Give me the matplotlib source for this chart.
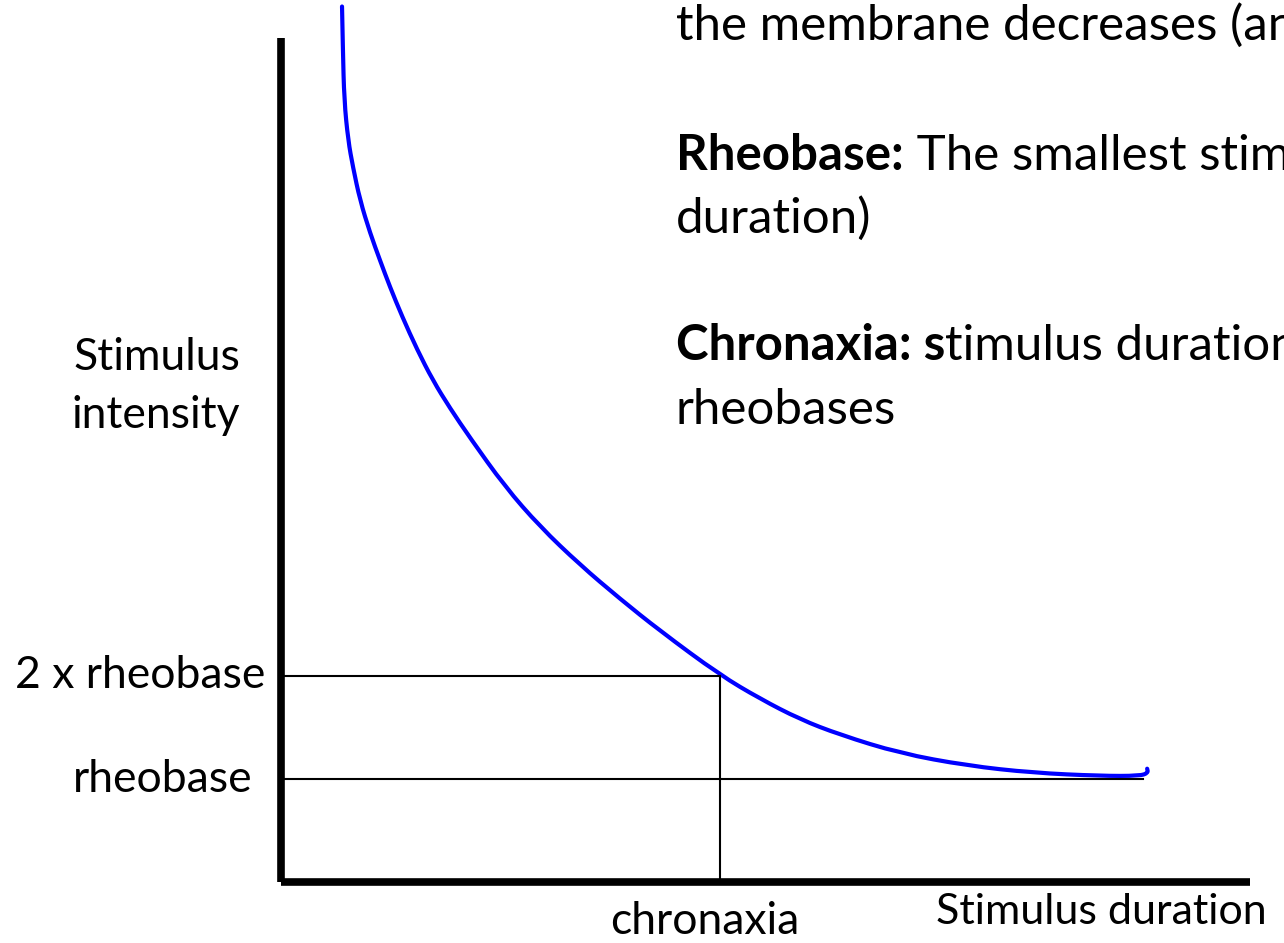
import matplotlib
matplotlib.use("Agg")
import matplotlib.pyplot as plt
from matplotlib.path import Path
from matplotlib.patches import PathPatch

plt.rcParams['font.family'] = ['Lato', 'DejaVu Sans']

# strength-duration curve (duration in chronaxia units,
# intensity in rheobase units)
duration = [0.139, 0.141, 0.144, 0.153, 0.164, 0.180, 0.203, 0.226, 0.248,
            0.276, 0.310, 0.346, 0.385, 0.431, 0.510, 0.590, 0.681, 0.772,
            0.863, 1.000, 1.091, 1.182, 1.273, 1.410, 1.563, 1.713, 1.866,
            1.957, 1.975, 1.973]
intensity = [8.50, 8.08, 7.59, 7.20, 6.94, 6.62, 6.30, 6.03, 5.78,
             5.49, 5.17, 4.87, 4.60, 4.31, 3.84, 3.45, 3.08, 2.75,
             2.44, 2.01, 1.78, 1.58, 1.43, 1.25, 1.13, 1.06, 1.03,
             1.03, 1.06, 1.10]

rheobase = 1.0
two_rheobase = 2.0
chronaxia = 1.0
x_end = 2.207
y_end = 8.19
rheo_line_end = 1.963

level_labels = ['2 x rheobase', 'rheobase']

fig = plt.figure(figsize=(12.84, 9.43), dpi=100)
ax = fig.add_axes([0, 0, 1, 1])
ax.set_xlim(-281 / 439, (1284 - 281) / 439)
ax.set_ylim(-(943 - 882) / 103, 882 / 103)
ax.axis('off')

# axes
ax.plot([0, 0], [0, y_end], color='black', lw=5.5, solid_capstyle='butt')
ax.plot([0, x_end], [0, 0], color='black', lw=5.5, solid_capstyle='butt')

# guide lines
ax.plot([0, rheo_line_end], [rheobase, rheobase], color='black', lw=1.5)
ax.plot([0, chronaxia], [two_rheobase, two_rheobase], color='black', lw=1.5)
ax.plot([chronaxia, chronaxia], [0, two_rheobase], color='black', lw=1.5)

# curve, drawn as a smooth quadratic path over the read points
pts = list(zip(duration, intensity))
verts = [pts[0]]
codes = [Path.MOVETO]
for i in range(1, len(pts) - 1):
    mid = ((pts[i][0] + pts[i + 1][0]) / 2, (pts[i][1] + pts[i + 1][1]) / 2)
    verts += [pts[i], mid]
    codes += [Path.CURVE3, Path.CURVE3]
verts.append(pts[-1])
codes.append(Path.LINETO)
curve = PathPatch(Path(verts, codes), fill=False, edgecolor='#0000ff', lw=3.0,
                  capstyle='round', joinstyle='round', clip_on=False)
ax.add_patch(curve)

fs = 32
tr = ax.transAxes
W, H = 1284, 943

ax.text(265 / W, 1 - 675 / H, level_labels[0], ha='right', va='center',
        fontsize=fs, transform=tr)
ax.text(253 / W, 1 - 779 / H, level_labels[1], ha='right', va='center',
        fontsize=fs, transform=tr)
ax.text(240 / W, 1 - 358 / H, 'Stimulus', ha='right', va='center',
        fontsize=fs, transform=tr)
ax.text(240 / W, 1 - 415 / H, 'intensity', ha='right', va='center',
        fontsize=fs, transform=tr)
ax.text(705 / W, 1 - 922 / H, 'chronaxia', ha='center', va='center',
        fontsize=fs, transform=tr)
ax.text(936 / W, 1 - 912 / H, 'Stimulus duration', ha='left', va='center',
        fontsize=31, transform=tr)

# notes on the right (cut off at the right edge, as in the slide)
fs2 = 35.5
x0 = 676 / W
ax.text(x0, 1 - 25 / H, 'the membrane decreases (and vice versa)',
        ha='left', va='center', fontsize=fs2, transform=tr)
t1 = ax.text(x0, 1 - 155 / H, 'Rheobase:', ha='left', va='center',
             fontsize=fs2, fontweight='bold', transform=tr)
ax.annotate(' The smallest stimulus intensity (with infinite', xy=(1, 0),
            xycoords=t1, ha='left', va='bottom', fontsize=fs2)
ax.text(x0, 1 - 218 / H, 'duration)', ha='left', va='center', fontsize=fs2,
        transform=tr)
t2 = ax.text(x0, 1 - 345 / H, 'Chronaxia: s', ha='left', va='center',
             fontsize=fs2, fontweight='bold', transform=tr)
ax.annotate('timulus duration needed with two', xy=(1, 0),
            xycoords=t2, ha='left', va='bottom', fontsize=fs2)
ax.text(x0, 1 - 410 / H, 'rheobases', ha='left', va='center', fontsize=fs2,
        transform=tr)

fig.savefig('out.png', dpi=100)
